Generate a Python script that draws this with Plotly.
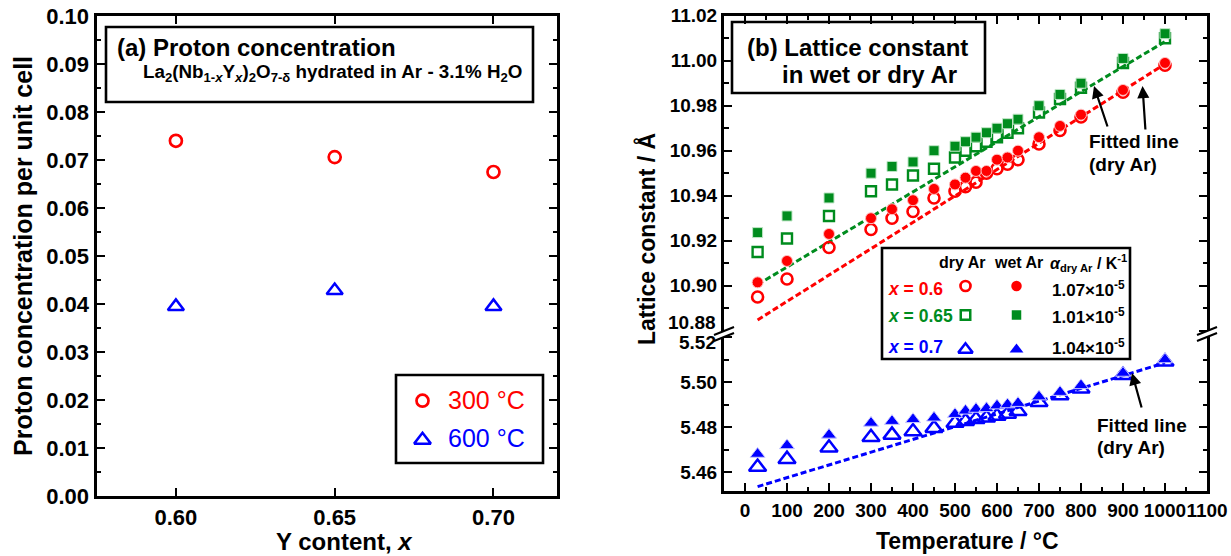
import plotly.graph_objects as go

W, H = 1231, 556
FONT = "Liberation Sans, Arial, sans-serif"
RED, GREEN, BLUE = "#ff0000", "#008c1e", "#0000ff"

# ---------------- data: panel (a) ----------------
y_content = [0.60, 0.65, 0.70]
proton_300C = [0.0740, 0.0706, 0.0675]
proton_600C = [0.0395, 0.0428, 0.0395]

# ---------------- data: panel (b) ----------------
temperature = [30, 100, 200, 300, 350, 400, 450, 500, 525, 550, 575, 600, 625, 650, 700, 750, 800, 900, 1000]
a_x060_dry = [10.895, 10.903, 10.917, 10.925, 10.930, 10.933, 10.939, 10.942, 10.944, 10.946, 10.950, 10.952,
              10.954, 10.956, 10.963, 10.969, 10.975, 10.986, 10.998]
a_x060_wet = [10.9015, 10.911, 10.923, 10.930, 10.934, 10.938, 10.943, 10.945, 10.948, 10.951, 10.951, 10.956,
              10.957, 10.960, 10.966, 10.971, 10.976, 10.987, 10.999]
a_x065_dry = [10.915, 10.921, 10.931, 10.942, 10.945, 10.949, 10.952, 10.957, 10.960, 10.962, 10.964, 10.966,
              10.968, 10.970, 10.977, 10.983, 10.988, 10.999, 11.010]
a_x065_wet = [10.9236, 10.931, 10.939, 10.950, 10.953, 10.955, 10.960, 10.962, 10.964, 10.966, 10.968, 10.970,
              10.972, 10.974, 10.980, 10.985, 10.990, 11.001, 11.012]
a_x070_dry = [5.4622, 5.4657, 5.4708, 5.4754, 5.4765, 5.4780, 5.4795, 5.4818, 5.4826, 5.4834, 5.4841, 5.4849,
              5.4858, 5.4870, 5.4910, 5.4940, 5.4970, 5.5030, 5.5090]
a_x070_wet = [5.4680, 5.4718, 5.4765, 5.4818, 5.4826, 5.4834, 5.4841, 5.4857, 5.4872, 5.4880, 5.4883, 5.4895,
              5.4900, 5.4906, 5.4935, 5.4955, 5.4985, 5.5040, 5.5100]
fit_T = [30, 1000]
fit_x060 = [10.8848, 10.9985]
fit_x065 = [10.9005, 11.0085]
fit_x070 = [5.4535, 5.5085]
legend_rows = ["<i>x</i> = 0.6", "<i>x</i> = 0.65", "<i>x</i> = 0.7"]
alpha_dry = ["1.07×10<sup>-5</sup>", "1.01×10<sup>-5</sup>", "1.04×10<sup>-5</sup>"]

# ---------------- helpers (pixel -> paper) ----------------
def px(x):
    return x / W

def py(y):
    return 1 - y / H

fig = go.Figure()

# panel (a) traces
fig.add_trace(go.Scatter(x=y_content, y=proton_300C, mode="markers", xaxis="x", yaxis="y",
                         marker=dict(symbol="circle-open", size=12, color=RED, line=dict(width=2.7, color=RED))))
fig.add_trace(go.Scatter(x=y_content, y=proton_600C, mode="markers", xaxis="x", yaxis="y",
                         marker=dict(symbol="triangle-up-open", size=14, color=BLUE, line=dict(width=2.5, color=BLUE))))

# panel (b) upper traces (x3 / y2)
for yv, c in [(fit_x065, GREEN), (fit_x060, RED)]:
    fig.add_trace(go.Scatter(x=fit_T, y=yv, mode="lines", xaxis="x3", yaxis="y2",
                             line=dict(color=c, width=3, dash="6px,3px")))
fig.add_trace(go.Scatter(x=temperature, y=a_x065_dry, mode="markers", xaxis="x3", yaxis="y2",
                         marker=dict(symbol="square-open", size=10, color=GREEN, line=dict(width=2.4, color=GREEN))))
fig.add_trace(go.Scatter(x=temperature, y=a_x065_wet, mode="markers", xaxis="x3", yaxis="y2",
                         marker=dict(symbol="square", size=10, color=GREEN, line=dict(width=1, color="#bfe6c6"))))
fig.add_trace(go.Scatter(x=temperature, y=a_x060_dry, mode="markers", xaxis="x3", yaxis="y2",
                         marker=dict(symbol="circle-open", size=11, color=RED, line=dict(width=2.6, color=RED))))
fig.add_trace(go.Scatter(x=temperature, y=a_x060_wet, mode="markers", xaxis="x3", yaxis="y2",
                         marker=dict(symbol="circle", size=11, color=RED, line=dict(width=1, color="#ffc0c0"))))

# panel (b) lower traces (x2 / y3)
fig.add_trace(go.Scatter(x=fit_T, y=fit_x070, mode="lines", xaxis="x2", yaxis="y3",
                         line=dict(color=BLUE, width=3, dash="6px,3px")))
fig.add_trace(go.Scatter(x=temperature, y=a_x070_dry, mode="markers", xaxis="x2", yaxis="y3",
                         marker=dict(symbol="triangle-up-open", size=15, color=BLUE, line=dict(width=2.5, color=BLUE))))
fig.add_trace(go.Scatter(x=temperature, y=a_x070_wet, mode="markers", xaxis="x2", yaxis="y3",
                         marker=dict(symbol="triangle-up", size=13, color=BLUE, line=dict(width=1, color="#c8c8ff"))))

# legend glyphs on an overlay pixel axis (x4 / y4)
def glyph(x, y, sym, size, color, lw=2.4):
    filled = not sym.endswith("open")
    fig.add_trace(go.Scatter(x=[x], y=[y], mode="markers", xaxis="x4", yaxis="y4", cliponaxis=False,
                             marker=dict(symbol=sym, size=size, color=color,
                                         line=dict(width=0 if filled else lw, color=color))))

glyph(422.5, 400.7, "circle-open", 12, RED, 2.7)
glyph(422.5, 440.0, "triangle-up-open", 14.5, BLUE, 2.5)
glyph(965.5, 286, "circle-open", 10, RED, 2.7)
glyph(1016.5, 286, "circle", 10.5, RED)
glyph(965.5, 315, "square-open", 9.5, GREEN, 2.5)
glyph(1016.5, 315, "square", 9.5, GREEN)
glyph(965.5, 349.5, "triangle-up-open", 12.5, BLUE, 2.5)
glyph(1016.5, 349.5, "triangle-up", 12, BLUE)

ax_common = dict(showline=True, linecolor="black", linewidth=3, ticks="inside", ticklen=8, tickwidth=2,
                 tickcolor="black", showgrid=False, zeroline=False, mirror="ticks", automargin=False)
minor_common = dict(ticks="inside", ticklen=4.5, tickwidth=2, tickcolor="black", showgrid=False)

lt_font = dict(family=FONT, size=22, color="black", weight="bold")
rt_font = dict(family=FONT, size=19, color="black", weight="bold")

Y_TOP_PX, Y_BREAK_PX, Y_BOT_PX = 15.7, 334, 491
PXU = 2250.0
y2_range = [11.02 - (Y_BREAK_PX - Y_TOP_PX) / PXU, 11.02]
y3_range = [5.46 - (Y_BOT_PX - 472) / PXU, 5.46 + (472 - Y_BREAK_PX) / PXU]

up_ticks = [10.88, 10.90, 10.92, 10.94, 10.96, 10.98, 11.00, 11.02]
lo_ticks = [5.46, 5.48, 5.50, 5.52]

fig.update_layout(
    width=W, height=H, autosize=False,
    margin=dict(l=0, r=0, t=0, b=0, pad=0, autoexpand=False),
    paper_bgcolor="white", plot_bgcolor="rgba(0,0,0,0)",
    showlegend=False, hovermode=False,
    font=dict(family=FONT, color="black"),
    xaxis=dict(**ax_common, domain=[px(96.5), px(557)], range=[0.575, 0.72], anchor="y",
               tickvals=y_content, ticktext=["0.60", "0.65", "0.70"], tickfont=lt_font, tickangle=0),
    yaxis=dict(**ax_common, domain=[py(496), py(16)], range=[0, 0.1], anchor="x",
               tick0=0, dtick=0.01, tickformat=".2f", tickfont=lt_font,
               minor=dict(**minor_common, dtick=0.005, tick0=0)),
    xaxis2=dict(**{**ax_common, "mirror": False}, domain=[px(724), px(1207)], range=[-50, 1100], anchor="y3",
                tick0=0, dtick=100, tickfont=rt_font, tickangle=0,
                minor=dict(**minor_common, dtick=50, tick0=0)),
    xaxis3=dict(**{**ax_common, "mirror": False}, domain=[px(724), px(1207)], range=[-50, 1100], anchor="y2",
                side="top", matches="x2", showticklabels=False,
                tick0=0, dtick=100, minor=dict(**minor_common, dtick=50, tick0=0)),
    yaxis2=dict(**ax_common, domain=[py(Y_BREAK_PX), py(Y_TOP_PX)], range=y2_range, anchor="x2",
                tickmode="array", tickvals=up_ticks, ticktext=[""] + [f"{v:.2f}" for v in up_ticks[1:]],
                tickfont=rt_font, minor=dict(**minor_common, tickmode="linear", dtick=0.01, tick0=10.88)),
    yaxis3=dict(**ax_common, domain=[py(Y_BOT_PX), py(Y_BREAK_PX)], range=y3_range, anchor="x2",
                tickmode="array", tickvals=lo_ticks, ticktext=[f"{v:.2f}" for v in lo_ticks[:-1]] + [""],
                tickfont=rt_font, minor=dict(**minor_common, tickmode="linear", dtick=0.01, tick0=5.46)),
    xaxis4=dict(domain=[0, 1], range=[0, W], visible=False, anchor="y4", fixedrange=True, automargin=False),
    yaxis4=dict(domain=[0, 1], range=[H, 0], visible=False, anchor="x4", fixedrange=True, automargin=False),
)

shapes = []
def rect(x0, y0, x1, y1, w=2.6):
    shapes.append(dict(type="rect", xref="paper", yref="paper", x0=px(x0), x1=px(x1), y0=py(y1), y1=py(y0),
                       line=dict(color="black", width=w), fillcolor="rgba(0,0,0,0)", layer="above"))

rect(106, 27, 533, 102)      # title box (a)
rect(396, 375, 543, 463)     # legend box (a)
rect(732, 22, 985, 93)       # title box (b)
rect(882, 248, 1130, 359)    # legend box (b)

def axis_break(xc, yc):
    pts = [(xc - 10, yc + 1), (xc + 10, yc - 7), (xc + 10, yc - 1), (xc - 10, yc + 7)]
    path = "M " + " L ".join(f"{px(a)},{py(b)}" for a, b in pts) + " Z"
    shapes.append(dict(type="path", xref="paper", yref="paper", path=path, fillcolor="white",
                       line=dict(width=0), layer="above"))
    for (a0, b0), (a1, b1) in [(pts[0], pts[1]), (pts[3], pts[2])]:
        shapes.append(dict(type="line", xref="paper", yref="paper", x0=px(a0), y0=py(b0), x1=px(a1), y1=py(b1),
                           line=dict(color="black", width=2), layer="above"))

axis_break(724, Y_BREAK_PX)
axis_break(1207, Y_BREAK_PX)
fig.update_layout(shapes=shapes)

ann = []
def text(x, y, s, size, color="black", bold=True, xanchor="left", angle=0):
    ann.append(dict(x=px(x), y=py(y), xref="paper", yref="paper", text=s, showarrow=False,
                    xanchor=xanchor, yanchor="middle", textangle=angle,
                    font=dict(family=FONT, size=size, color=color, weight="bold" if bold else "normal")))

def arrow(hx, hy, tx, ty):
    ann.append(dict(x=px(hx), y=py(hy), xref="paper", yref="paper", ax=tx - hx, ay=ty - hy,
                    axref="pixel", ayref="pixel", text="", showarrow=True, arrowhead=2, arrowsize=1.1,
                    arrowwidth=2.2, arrowcolor="black", standoff=0, startstandoff=0))

# axis titles
text(23, 256, "Proton concentration per unit cell", 25, xanchor="center", angle=-90)
text(344, 541, "Y content, <i>x</i>", 24, xanchor="center")
text(646, 239, "Lattice constant / Å", 23, xanchor="center", angle=-90)
text(967, 541, "Temperature / °C", 23, xanchor="center")
# broken-axis tick labels
text(718, 322, "10.88", 19, xanchor="right")
text(718, 342, "5.52", 19, xanchor="right")

# panel (a) title
text(115, 47, "(a) Proton concentration", 24)
text(332, 73, "La<sub>2</sub>(Nb<sub>1-<i>x</i></sub>Y<sub><i>x</i></sub>)<sub>2</sub>O<sub>7-δ</sub>"
              " hydrated in Ar - 3.1% H<sub>2</sub>O", 18.8, xanchor="center")
# panel (a) legend
text(446, 400, "300 °C", 25, RED, bold=False)
text(446, 438, "600 °C", 25, BLUE, bold=False)

# panel (b) title
text(857, 47, "(b) Lattice constant", 24, xanchor="center")
text(869, 74, "in wet or dry Ar", 24, xanchor="center")

# panel (b) legend
text(962, 263, "dry Ar", 16, xanchor="center")
text(1018, 263, "wet Ar", 16, xanchor="center")
text(1088, 263, "<i>α</i><sub>dry Ar</sub> / K<sup>-1</sup>", 16, xanchor="center")
for s, a, c, yy in zip(legend_rows, alpha_dry, [RED, GREEN, BLUE], [289, 315.5, 346.5]):
    text(886, yy, s, 17.5, c)
    text(1088, yy, a, 17, xanchor="center")

# fitted line annotations
text(1087, 142, "Fitted line", 19)
text(1087, 165, "(dry Ar)", 19)
arrow(1094, 86, 1108, 128)
arrow(1142.5, 86, 1145.5, 131)
text(1095, 425, "Fitted line", 19)
text(1095, 447, "(dry Ar)", 19)
arrow(1132, 373, 1142, 409)

fig.update_layout(annotations=ann)
fig.write_html("out.html", config={"displayModeBar": False, "staticPlot": True},
               post_script="document.body.style.margin='0px';document.body.style.overflow='hidden';")
